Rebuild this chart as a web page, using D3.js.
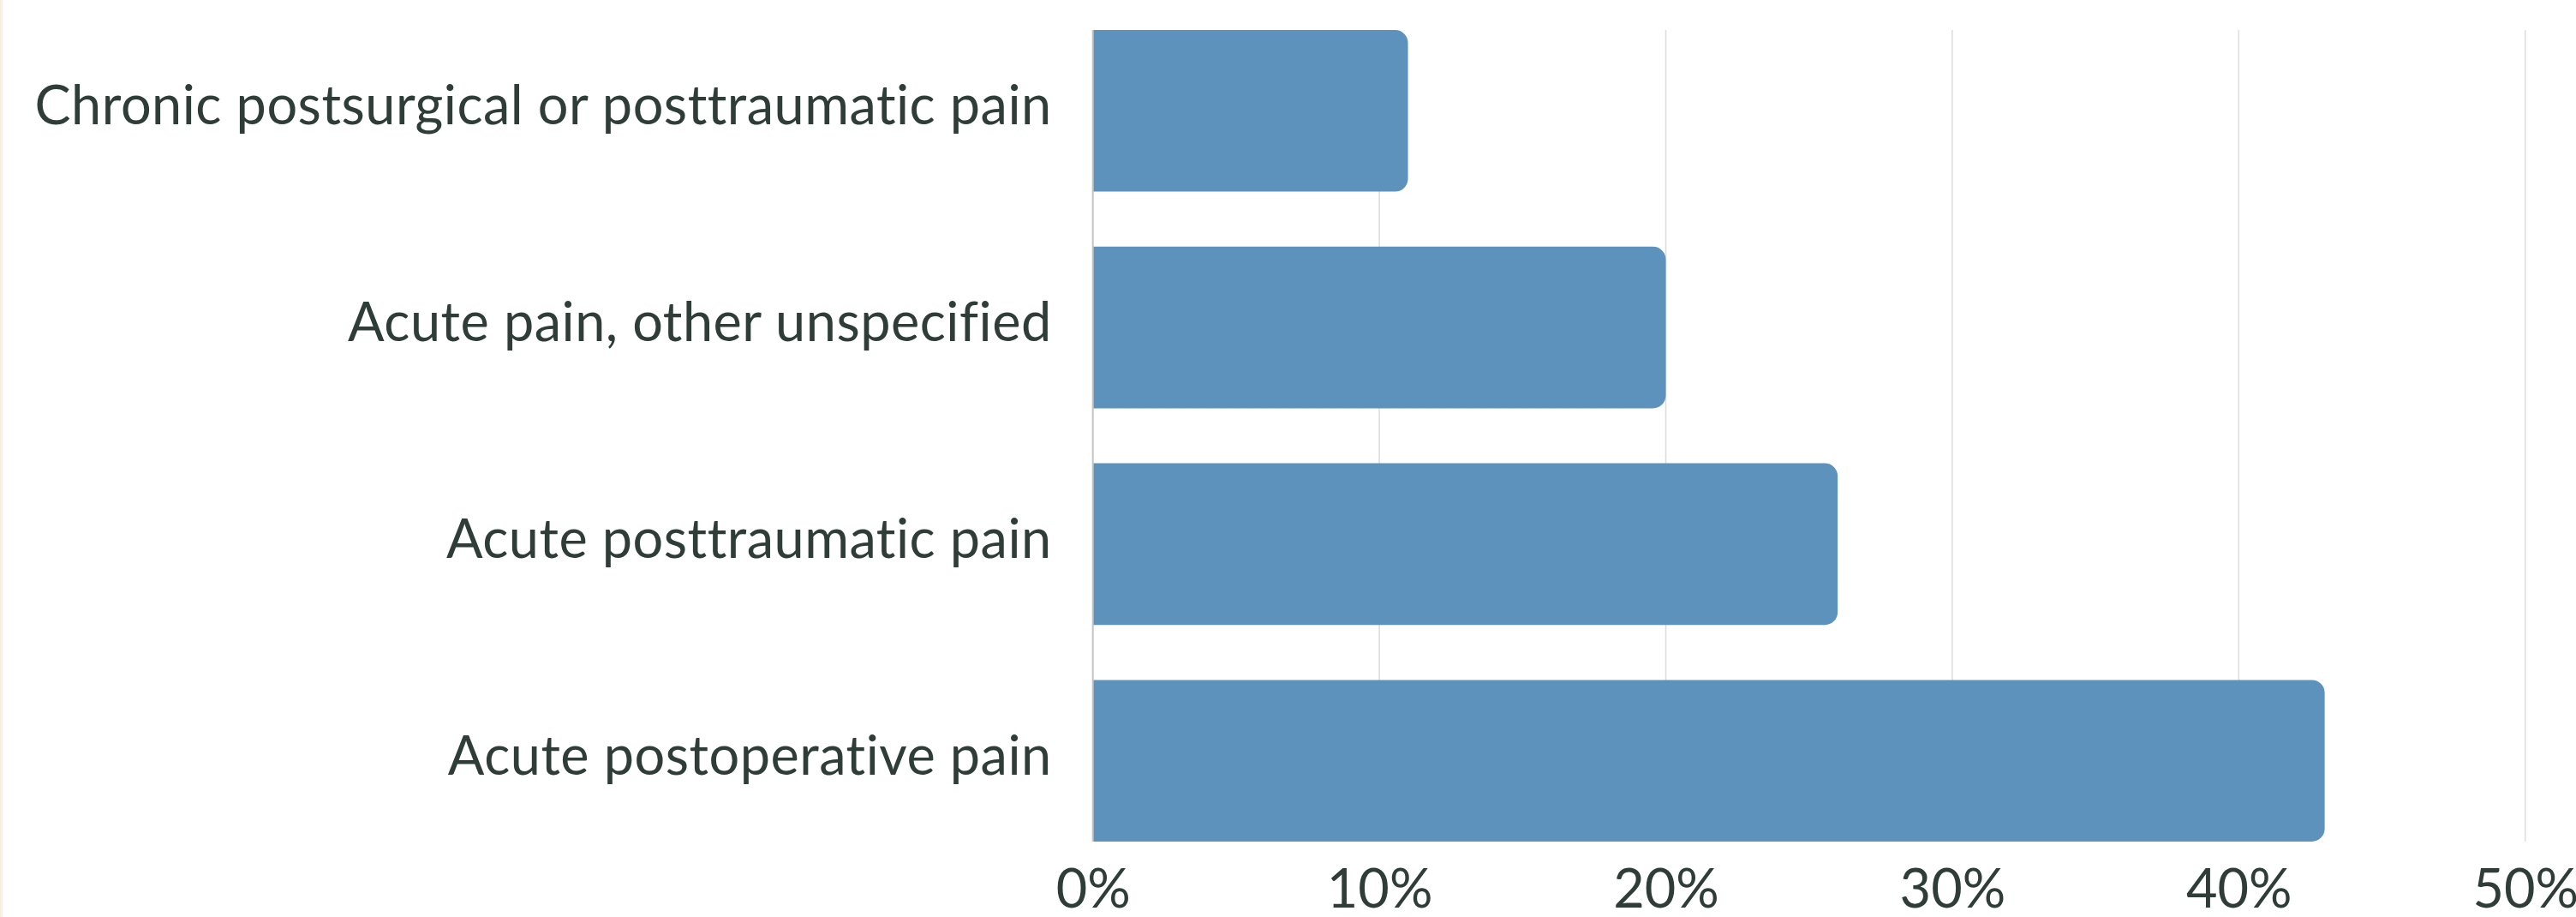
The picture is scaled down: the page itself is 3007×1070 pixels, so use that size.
<!DOCTYPE html>
<html>
<head>
<meta charset="utf-8">
<script src="https://cdn.jsdelivr.net/npm/d3@7"></script>
<style>
  html, body { margin: 0; padding: 0; background: #ffffff; }
  svg { display: block; }
  text {
    font-family: Lato, "Noto Sans", sans-serif;
    fill: #2f3d39;
    font-variant-ligatures: none;
    font-feature-settings: "liga" 0, "clig" 0, "dlig" 0;
  }
</style>
</head>
<body>
<svg id="chart" width="3007" height="1070"></svg>
<script>
// Share of cases by pain type
const categories = [
  "Chronic postsurgical or posttraumatic pain",
  "Acute pain, other unspecified",
  "Acute posttraumatic pain",
  "Acute postoperative pain"
];
const shares = [0.11, 0.20, 0.26, 0.43];
const tickValues = [0, 0.1, 0.2, 0.3, 0.4, 0.5];

const W = 3007, H = 1070;
const plot = { left: 1275.7, right: 2947.7, top: 35, bottom: 982 };
const fontSize = 63;
const barColor = "#5d92bc";
const radius = 15;

const svg = d3.select("#chart");

// thin warm strip along the left edge
svg.append("rect")
  .attr("x", 0).attr("y", 0)
  .attr("width", 3).attr("height", H)
  .attr("fill", "#f8eee1");

const x = d3.scaleLinear().domain([0, 0.5]).range([plot.left, plot.right]);
const y = d3.scaleBand()
  .domain(categories)
  .range([plot.top, plot.bottom])
  .paddingInner(0.254)
  .paddingOuter(0);

// vertical gridlines
svg.append("g")
  .selectAll("line")
  .data(tickValues.filter(v => v > 0))
  .join("line")
  .attr("x1", d => x(d)).attr("x2", d => x(d))
  .attr("y1", plot.top).attr("y2", plot.bottom)
  .attr("stroke", "#dcdcdc")
  .attr("stroke-width", 1.5);

// bars with rounded right end
function barPath(x0, x1, y0, h, r) {
  const p = d3.path();
  const rr = Math.min(r, (x1 - x0), h / 2);
  p.moveTo(x0, y0);
  p.lineTo(x1 - rr, y0);
  p.arcTo(x1, y0, x1, y0 + rr, rr);
  p.lineTo(x1, y0 + h - rr);
  p.arcTo(x1, y0 + h, x1 - rr, y0 + h, rr);
  p.lineTo(x0, y0 + h);
  p.closePath();
  return p.toString();
}

svg.append("g")
  .selectAll("path")
  .data(categories.map((c, i) => ({ c, v: shares[i] })))
  .join("path")
  .attr("d", d => barPath(x(0), x(d.v), y(d.c), y.bandwidth(), radius))
  .attr("fill", barColor);

// baseline axis line at zero
svg.append("line")
  .attr("x1", x(0)).attr("x2", x(0))
  .attr("y1", plot.top).attr("y2", plot.bottom)
  .attr("stroke", "#c4c4c4")
  .attr("stroke-width", 2);

// category labels
const yAxis = d3.axisLeft(y).tickSize(0).tickPadding(0);
const gy = svg.append("g")
  .attr("transform", `translate(${x(0) - 48},0)`)
  .call(yAxis);
gy.select(".domain").remove();
gy.selectAll("text")
  .attr("x", 0)
  .attr("dy", "16px")
  .attr("font-size", fontSize)
  .style("font-family", "Lato, 'Noto Sans', sans-serif")
  .style("letter-spacing", "0.5px")
  .attr("fill", "#2f3d39");

// percentage ticks along the bottom
const xAxis = d3.axisBottom(x).tickValues(tickValues).tickFormat(d3.format(".0%")).tickSize(0);
const gx = svg.append("g")
  .attr("transform", `translate(0,1059)`)
  .call(xAxis);
gx.select(".domain").remove();
gx.selectAll("text")
  .attr("y", 0)
  .attr("dy", 0)
  .attr("font-size", fontSize)
  .style("font-family", "Lato, 'Noto Sans', sans-serif")
  .attr("fill", "#2f3d39");
</script>
</body>
</html>
